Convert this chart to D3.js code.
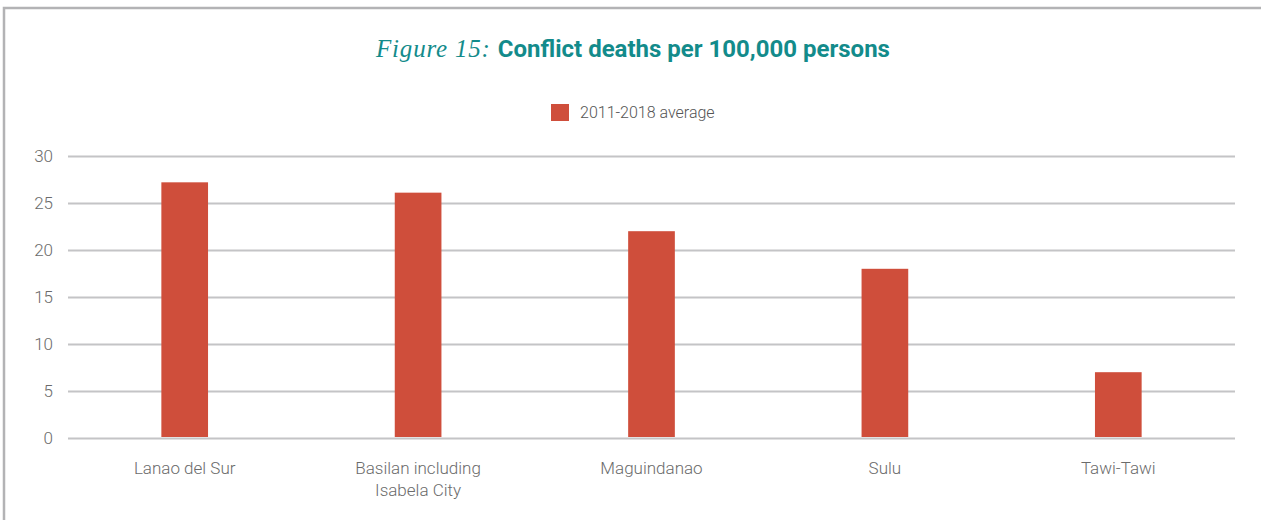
<!DOCTYPE html>
<html>
<head>
<meta charset="utf-8">
<script src="https://cdn.jsdelivr.net/npm/d3@7"></script>
<style>
  body { margin: 0; background: #fff; }
  svg { display: block; }
</style>
</head>
<body>
<div id="chart"></div>
<script>
var categories = [["Lanao del Sur"], ["Basilan including", "Isabela City"], ["Maguindanao"], ["Sulu"], ["Tawi-Tawi"]];
var values = [27.2, 26.1, 22.0, 18.0, 7.0];
var yTicks = [0, 5, 10, 15, 20, 25, 30];
var seriesName = "2011-2018 average";

var W = 1261, H = 520;
var margin = {top: 156, right: 26, bottom: 82, left: 68};
var width = W - margin.left - margin.right, height = H - margin.top - margin.bottom;

var barColor = "#cf4e3b";
var gridColor = "#c4c4c6";
var textColor = "#6b6b6b";

var svg = d3.select("#chart").append("svg")
    .attr("width", W)
    .attr("height", H);

// frame
svg.append("path")
    .attr("d", "M4,520 V8 H1261")
    .attr("fill", "none")
    .attr("stroke", "#b3b3b5")
    .attr("stroke-width", 2.5);

// title
var title = svg.append("text")
    .attr("x", 633)
    .attr("y", 57)
    .attr("text-anchor", "middle")
    .attr("fill", "#138b8b");
title.append("tspan")
    .style("font-family", "'Liberation Serif', 'DejaVu Serif', serif")
    .style("font-style", "italic")
    .style("font-size", "25px")
    .style("letter-spacing", "0.8px")
    .text("Figure 15: ");
title.append("tspan")
    .style("font-family", "Roboto, sans-serif")
    .style("font-weight", "bold")
    .style("font-size", "24px")
    .text("Conflict deaths per 100,000 persons");

// legend
var legend = svg.append("g").attr("transform", "translate(551,104)");
legend.append("rect").attr("width", 18).attr("height", 17).attr("fill", barColor);
legend.append("text")
    .attr("x", 29).attr("y", 14)
    .style("font-family", "Roboto, sans-serif")
    .style("font-weight", 300)
    .style("font-size", "16px")
    .attr("fill", "#555")
    .text(seriesName);

var g = svg.append("g")
    .attr("transform", "translate(" + margin.left + "," + margin.top + ")");

var x = d3.scaleBand()
    .domain(d3.range(categories.length))
    .range([0, width])
    .padding(0);

var y = d3.scaleLinear()
    .domain([0, 30])
    .range([height, 0]);

// grid + y labels
var yAxis = g.append("g")
    .call(d3.axisLeft(y).tickValues(yTicks).tickSize(-width).tickPadding(15));
yAxis.select(".domain").remove();
yAxis.selectAll(".tick line")
    .attr("stroke", gridColor)
    .attr("stroke-width", 2);
yAxis.selectAll(".tick text")
    .style("font-family", "Roboto, sans-serif")
    .style("font-weight", 300)
    .style("font-size", "17px")
    .attr("fill", textColor);

var barW = x.bandwidth() * 0.2;

g.selectAll(".bar")
    .data(values)
    .enter().append("rect")
    .attr("class", "bar")
    .attr("x", (d, i) => x(i) + x.bandwidth() / 2 - barW / 2)
    .attr("width", barW)
    .attr("y", d => y(d))
    .attr("height", d => y(0) - y(d) - 1)
    .attr("fill", barColor);

// category labels
var labels = g.selectAll(".label")
    .data(categories)
    .enter().append("text")
    .attr("class", "label")
    .attr("text-anchor", "middle")
    .attr("x", (d, i) => x(i) + x.bandwidth() / 2)
    .attr("y", height + 36)
    .style("font-family", "Roboto, sans-serif")
    .style("font-weight", 300)
    .style("font-size", "17px")
    .attr("fill", textColor);
labels.each(function(d) {
  var t = d3.select(this);
  d.forEach((line, k) => {
    t.append("tspan")
      .attr("x", t.attr("x"))
      .attr("dy", k === 0 ? 0 : 22)
      .text(line);
  });
});
</script>
</body>
</html>
